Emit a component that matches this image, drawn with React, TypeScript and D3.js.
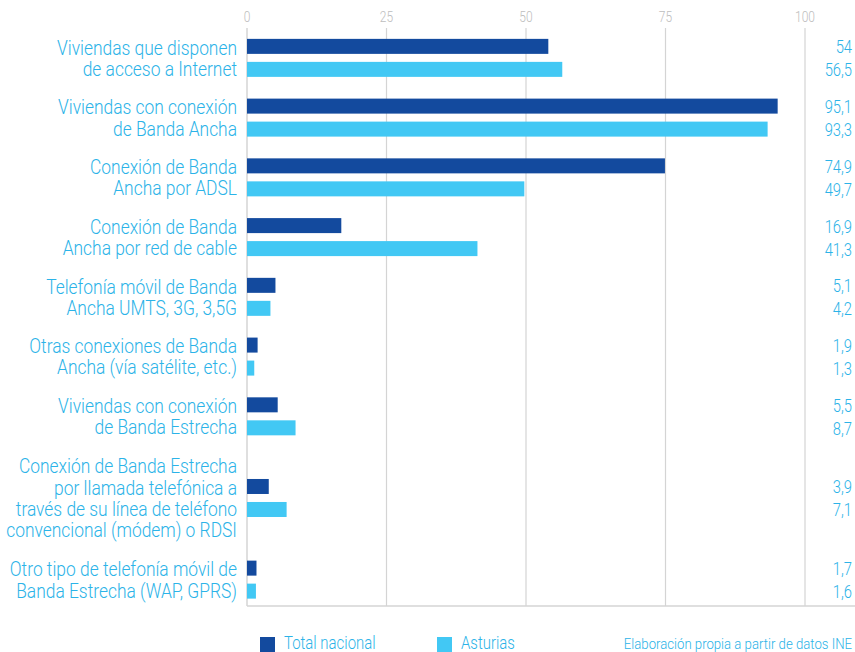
import React from "react";
import * as d3 from "d3";

const categories: string[][] = [
  ["Viviendas que disponen", "de acceso a Internet"],
  ["Viviendas con conexión", "de Banda Ancha"],
  ["Conexión de Banda", "Ancha por ADSL"],
  ["Conexión de Banda", "Ancha por red de cable"],
  ["Telefonía móvil de Banda", "Ancha UMTS, 3G, 3,5G"],
  ["Otras conexiones de Banda", "Ancha (vía satélite, etc.)"],
  ["Viviendas con conexión", "de Banda Estrecha"],
  ["Conexión de Banda Estrecha", "por llamada telefónica a", "través de su línea de teléfono", "convencional (módem) o RDSI"],
  ["Otro tipo de telefonía móvil de", "Banda Estrecha (WAP, GPRS)"],
];
const totalNacional: number[] = [54, 95.1, 74.9, 16.9, 5.1, 1.9, 5.5, 3.9, 1.7];
const asturias: number[] = [56.5, 93.3, 49.7, 41.3, 4.2, 1.3, 8.7, 7.1, 1.6];
const ticks: number[] = [0, 25, 50, 75, 100];
const seriesNames: string[] = ["Total nacional", "Asturias"];
const sourceText = "Elaboración propia a partir de datos INE";

const DARK = "#134a9e";
const LIGHT = "#42c8f4";
const TEXT = "#2bb3e8";
const GRID = "#d4d4d4";
const FONT = "Roboto, 'Liberation Sans', sans-serif";

function T(props: {
  x: number; y: number; anchor?: string; size: number; fill: string; children: React.ReactNode; sx?: number;
}) {
  const { x, y, anchor = "start", size, fill, children, sx = 0.86 } = props;
  return (
    <text
      transform={`translate(${x},${y}) scale(${sx},1)`}
      textAnchor={anchor}
      fontSize={size}
      fill={fill}
      fontFamily={FONT}
      fontWeight={300}
    >
      {children}
    </text>
  );
}

export default function App() {
  const W = 855;
  const H = 652;
  const top = 28;
  const bottom = 606;
  const x = d3.scaleLinear().domain([0, 100]).range([247, 805]);

  const weights = categories.map((c) => 16 + 22 * c.length);
  const cum = d3.cumsum(weights);
  const total = cum[cum.length - 1];
  const yU = d3.scaleLinear().domain([0, total]).range([top, 609.5]);
  const centers = weights.map((w, i) => yU(cum[i] - w / 2));

  const barH = 15;
  const gap = 8;
  const lineH = 21.2;
  const fmt = (v: number) => String(v).replace(".", ",");

  return (
    <svg width={W} height={H} style={{ position: "absolute", left: 0, top: 0, display: "block" }}>
      <rect width={W} height={H} fill="#fff" />
      {ticks.map((t) => (
        <g key={t}>
          <line x1={x(t)} x2={x(t)} y1={top} y2={bottom} stroke={GRID} strokeWidth={t === 0 ? 1.5 : 1.2} />
          <T x={x(t)} y={22} anchor="middle" size={15} fill="#bdbdbd" sx={0.8}>{t}</T>
        </g>
      ))}
      <line x1={x(0)} x2={W} y1={bottom} y2={bottom} stroke={GRID} strokeWidth={1.5} />
      {categories.map((lines, i) => {
        const c = centers[i];
        const startY = c - ((lines.length - 1) * lineH) / 2 + 7.3;
        return (
          <g key={i}>
            <rect x={x(0)} y={c - gap / 2 - barH} width={x(totalNacional[i]) - x(0)} height={barH} fill={DARK} />
            <rect x={x(0)} y={c + gap / 2} width={x(asturias[i]) - x(0)} height={barH} fill={LIGHT} />
            {lines.map((ln, j) => (
              <T key={j} x={237} y={startY + j * lineH} anchor="end" size={20} fill={TEXT} sx={0.87}>{ln}</T>
            ))}
            <T x={852} y={c - gap / 2 - barH / 2 + 7} anchor="end" size={18} fill={TEXT} sx={0.82}>{fmt(totalNacional[i])}</T>
            <T x={852} y={c + gap / 2 + barH / 2 + 7} anchor="end" size={18} fill={TEXT} sx={0.82}>{fmt(asturias[i])}</T>
          </g>
        );
      })}
      {/* legend */}
      <rect x={260} y={637} width={15} height={16} fill={DARK} />
      <T x={284} y={649} size={18} fill={TEXT} sx={0.83}>{seriesNames[0]}</T>
      <rect x={437} y={637} width={15} height={16} fill={LIGHT} />
      <T x={461} y={649} size={18} fill={TEXT} sx={0.83}>{seriesNames[1]}</T>
      <T x={852} y={649} anchor="end" size={15.5} fill={TEXT} sx={0.85}>{sourceText}</T>
    </svg>
  );
}
